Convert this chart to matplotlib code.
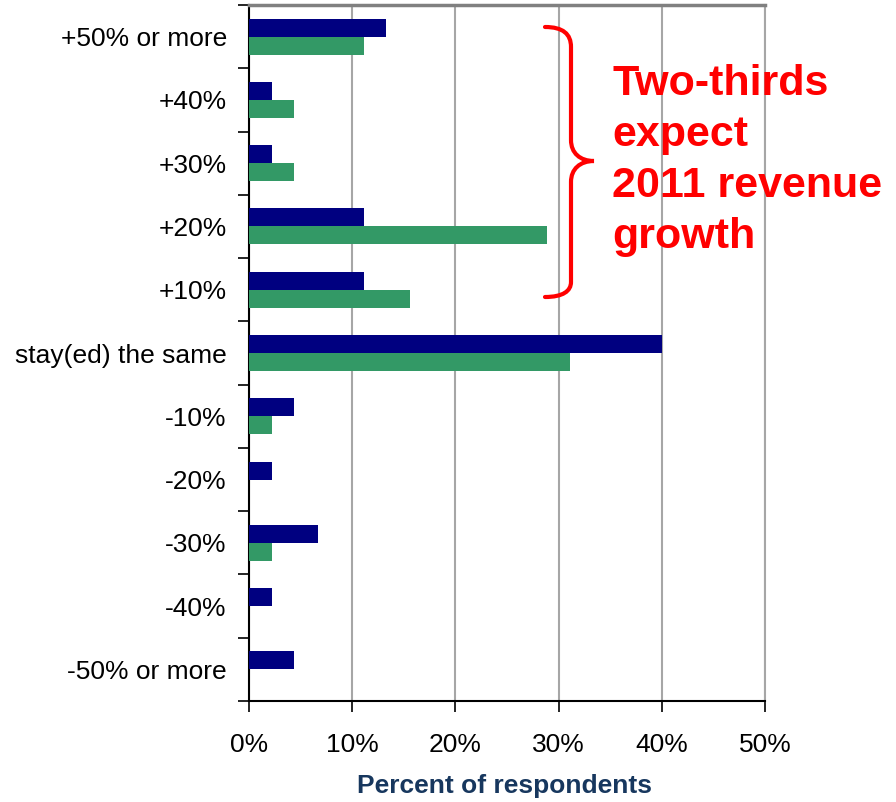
import matplotlib.pyplot as plt
import numpy as np
from matplotlib.path import Path
from matplotlib.patches import PathPatch

plt.rcParams['font.family'] = ['Liberation Sans', 'DejaVu Sans']

categories = ['+50% or more', '+40%', '+30%', '+20%', '+10%', 'stay(ed) the same',
              '-10%', '-20%', '-30%', '-40%', '-50% or more']
# percent of respondents, two survey series
navy_vals = [13.3, 2.2, 2.2, 11.1, 11.1, 40.0, 4.4, 2.2, 6.7, 2.2, 4.4]
green_vals = [11.1, 4.4, 4.4, 28.9, 15.6, 31.1, 2.2, 0.0, 2.2, 0.0, 0.0]
x_ticks = [0, 10, 20, 30, 40, 50]
x_tick_labels = ['0%', '10%', '20%', '30%', '40%', '50%']
note_lines = ['Two-thirds', 'expect', '2011 revenue', 'growth']

W, H = 896, 802
fig = plt.figure(figsize=(W / 100, H / 100), dpi=100)
ax = fig.add_axes([249 / W, 1 - 701 / H, (765 - 249) / W, (701 - 5) / H])

y = np.arange(len(categories))
h = 0.285
ax.barh(y - h / 2, navy_vals, height=h, color='#000080', zorder=3)
ax.barh(y + h / 2, green_vals, height=h, color='#339966', zorder=3)

ax.set_xlim(0, 50)
ax.set_ylim(len(categories) - 0.5, -0.5)

ax.set_xticks(x_ticks)
ax.set_xticklabels(x_tick_labels, fontsize=19)
ax.tick_params(axis='x', direction='out', length=8, width=1.2, pad=15)
ax.xaxis.grid(True, color='#a6a6a6', linewidth=1.5, zorder=0)

# category boundaries get the tick marks, labels sit at the centres
ax.set_yticks(np.arange(-0.5, len(categories)), minor=False)
ax.set_yticklabels([])
ax.set_yticks(y, minor=True)
ax.set_yticklabels(categories, minor=True, fontsize=19)
ax.tick_params(axis='y', which='major', direction='out', length=8, width=1.2)
ax.tick_params(axis='y', which='minor', length=0, pad=16)

ax.spines['left'].set_linewidth(1.5)
ax.spines['bottom'].set_linewidth(1.5)
ax.spines['top'].set_color('#808080')
ax.spines['top'].set_linewidth(2.5)
ax.spines['right'].set_color('#a6a6a6')
ax.spines['right'].set_linewidth(1.5)

fig.text(504 / W, 1 - 786 / H, 'Percent of respondents', ha='center', va='center',
         fontsize=19, fontweight='bold', color='#17375e')

# red curly brace around the growth categories, drawn in pixel space
def px(x, yy):
    return (x / W, 1 - yy / H)

verts = [px(545, 27), px(563, 27), px(571, 34), px(571, 47),
         px(571, 140),
         px(571, 153), px(580, 161), px(594, 161),
         px(580, 161), px(571, 169), px(571, 182),
         px(571, 282),
         px(571, 291), px(563, 297), px(545, 297)]
codes = [Path.MOVETO, Path.CURVE4, Path.CURVE4, Path.CURVE4,
         Path.LINETO,
         Path.CURVE4, Path.CURVE4, Path.CURVE4,
         Path.CURVE4, Path.CURVE4, Path.CURVE4,
         Path.LINETO,
         Path.CURVE4, Path.CURVE4, Path.CURVE4]
brace = PathPatch(Path(verts, codes), transform=fig.transFigure, fill=False,
                  edgecolor='#ff0000', linewidth=3, capstyle='round')
fig.patches.append(brace)

for i, line in enumerate(note_lines):
    fig.text(612 / W, 1 - (95 + 51 * i) / H, line, ha='left', va='baseline',
             fontsize=31, fontweight='bold', color='#ff0000')

fig.savefig('out.png', dpi=100)
